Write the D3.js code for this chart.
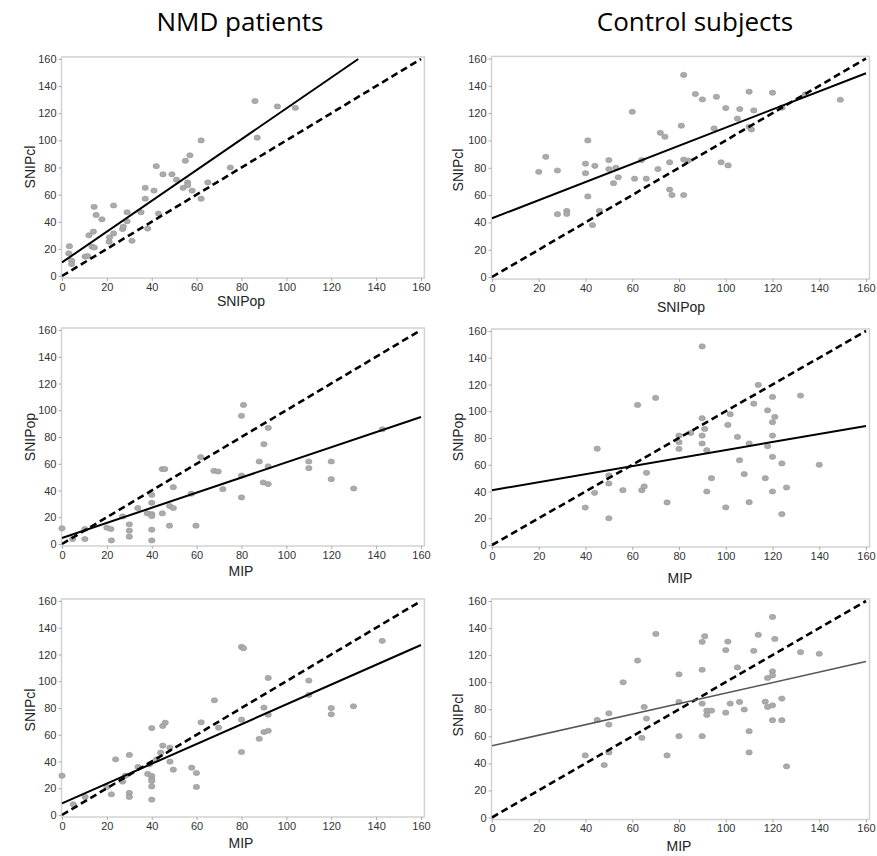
<!DOCTYPE html>
<html><head><meta charset="utf-8">
<script src="https://cdn.jsdelivr.net/npm/d3@7"></script>
<style>
html,body{margin:0;padding:0;background:#fff;}
svg{display:block;}
</style></head>
<body>
<svg id="chart" width="877" height="856"></svg>
<script>
// ---------- DATA ----------
const columnTitles = ["NMD patients", "Control subjects"];
const tickValues = [0, 20, 40, 60, 80, 100, 120, 140, 160];
const xTitles = ["SNIPop", "SNIPop", "MIP", "MIP", "MIP", "MIP"];
const yTitles = ["SNIPcl", "SNIPcl", "SNIPop", "SNIPop", "SNIPcl", "SNIPcl"];

// Row 1: SNIPop (x) vs SNIPcl (y)
const nmdSnipopX = [3.3,3,4.3,4.3,10.3,11.4,12,14.3,15.2,14,13.4,14.4,17.8,21,21.2,23,23,27,27.3,29,29,31.2,35.2,37.1,37.1,38.2,41,42,43,45,49,51,54,55,56,56,57,58,62,62,65,75,86,87,96,104];
const nmdSnipclY  = [22,16.7,11.3,8.8,14.3,14.7,30,51,45,32.7,21.6,21,41.8,25.3,28.5,31.4,52,34.6,36.4,47,40.3,26,47,65,57,35,63,81,46,75,75,71,65,85,69,67,89,63,57,100,69,80,129,102,125,124];
const ctlSnipopX = [20,23,28,28,32,32,40,40,41,41,44,43,46,50,50,52,53,54,60,61,64,66,71,72,74,76,76,77,81,82,82,82,84,87,90,95,96,98,100,101,105,106,110,110,111,112,120,124,134,149];
const ctlSnipclY  = [77,88,78,46,48.4,46.2,83,76,100,59,81.4,38,48.4,85.6,79,68.7,80,73,121,72,85.6,72,79,105.6,102.7,84,64,60,110.8,148,86,60,85.3,134,130,108.8,132,84,123.7,81.7,116,123,135.7,110,108,122,135,124,133.7,129.8];

// Row 2: MIP (x) vs SNIPop (y)
const nmdMipX2 = [0,4.7,10.2,10.2,20,21.8,22,27,30,30,30,33.8,38,40,40,40,40,40,40,44.7,45.8,44.7,48,49.6,49.6,47.9,57.6,59.7,61.8,67.7,69.6,71.7,80,80,80,80.9,87.9,90,89.7,91.9,91.9,91.9,110,110,120,120,130,142.8];
const nmdSnipopY2 = [11.7,3.7,3.7,11.2,12.2,11.2,2.7,20.6,14.7,10,5.5,26.9,22.9,36.8,30.8,22.4,20.9,10.7,2.7,56,56,22.9,28.4,26.9,42.5,13.7,37.6,13.7,65,54.7,54.2,41,51.2,34.8,95.8,104,61.7,74.6,46,44.8,58,86.8,61.7,56.7,61.7,48.5,41.5,85.8];
const ctlMipX2 = [39.9,43.9,45,50,50,50,56,62.3,64.1,65.1,66.1,70,74.9,80,80,80,85,89.9,89.9,91,89.9,89.9,91.9,93.9,91.9,100,100.9,101.9,105,105.9,107.9,110,110,112,113.9,117.9,117.9,116.9,120,120,121,120,120,120,124,124,126,132,140];
const ctlSnipopY2 = [28,39,72,52,46,20,41,104.7,41,43.8,54,110,31.8,81.8,76.9,71.9,83.8,148.5,94.8,86.8,81.8,75.9,70.9,50,40,28.1,89.8,97.8,80.8,63.4,53,75.9,32,105.7,119.7,100.7,73.9,50,110.7,91.8,95.8,81.8,65.9,40,61,23.1,43,111.7,60];

// Row 3: MIP (x) vs SNIPcl (y)
const nmdMipX3 = [0,5,10.3,20,22,23.9,27,28.2,30,30,30,33.9,38.2,39,40,40,40,40,40,40,42.2,44,44.9,44.9,46,48.1,48.1,49.6,57.8,59.9,59.9,62,67.9,69.8,80,80.9,80,80,87.9,90,90,91.9,91.9,91.9,110,110,120,120,129.9,142.7];
const nmdSnipclY3 = [29.4,8,13.5,21,15.5,41.6,25,29.4,44.9,16.5,13.5,36,30.7,37.9,65,29.2,27,25.4,21.4,11.5,41.6,46.6,51.9,66.6,69,39.9,50.4,33.9,35.4,31.4,21,69.3,85.8,65.3,125.7,124.7,71.3,47.1,57,80.3,62,63,75,102.5,100.5,89.8,80,75.3,81.3,130.2];
const ctlMipX3 = [39.9,45,48,50,50,50,56.1,62.3,64.1,65.1,66.1,70.1,74.9,80,80,80,89.9,91,89.9,89.9,89.9,91.9,91.9,93.9,100,100.9,100,101.9,105,105.9,107.9,110,110,112,113.9,116.9,117.9,117.9,120,120,120,120,120,121,124,124,126,132,140];
const ctlSnipclY3 = [45.9,72.1,38.8,77,68.7,48.1,99.9,116,58.9,81.7,73.1,135.7,45.9,105.8,85.4,60.1,129.8,134,109.2,84.2,60.1,79,75.8,79,123.7,130,77.5,84.2,110.9,85.4,79.8,63.8,48.1,123.2,135,85.6,103.1,81.7,148.2,108,105,82.9,71.9,132,87.9,71.9,37.8,122.2,121];

// Regression lines (intercept, slope), panel order: row by row, NMD then Control
const fitIntercepts = [10, 43, 4.5, 41, 8.7, 53];
const fitSlopes     = [1.136, 0.664, 0.565, 0.30, 0.74, 0.389];
// Identity line endpoints
const identityLine = [0, 160];

// ---------- LAYOUT / STYLE ----------
const panelData = [
  [nmdSnipopX, nmdSnipclY], [ctlSnipopX, ctlSnipclY],
  [nmdMipX2, nmdSnipopY2], [ctlMipX2, ctlSnipopY2],
  [nmdMipX3, nmdSnipclY3], [ctlMipX3, ctlSnipclY3]
];
const layout = [
  {x0:62,  x1:421, y0:276,   y1:59,  xt:[241,301], yt:[30,167]},
  {x0:492, x1:866, y0:277,   y1:58.5,xt:[681,307], yt:[458,170]},
  {x0:62,  x1:421, y0:544,   y1:330, xt:[241,571], yt:[30,437]},
  {x0:492, x1:866, y0:545,   y1:331, xt:[680,578], yt:[458,437]},
  {x0:62,  x1:421, y0:815,   y1:601, xt:[241,843], yt:[30,710]},
  {x0:492, x1:866, y0:817.5, y1:601, xt:[679,846], yt:[458,715]}
];
const fitStyle = [
  {c:"#000", w:2}, {c:"#000", w:2}, {c:"#000", w:2},
  {c:"#000", w:2}, {c:"#000", w:2}, {c:"#555", w:1.6}
];

const svg = d3.select("#chart");
svg.append("rect").attr("width",877).attr("height",856).attr("fill","#fff");

// Column titles
const titleX = [240, 695];
columnTitles.forEach((t,i)=>{
  svg.append("text").attr("x", titleX[i]).attr("y", 31)
    .attr("text-anchor","middle")
    .attr("font-family","'Open Sans', 'Liberation Sans', sans-serif")
    .attr("font-size", 26).attr("fill","#000").text(t);
});

layout.forEach((L, i) => {
  const xs = d3.scaleLinear().domain([0,160]).range([L.x0, L.x1]);
  const ys = d3.scaleLinear().domain([0,160]).range([L.y0, L.y1]);
  const g = svg.append("g");
  const left = xs(0) - 0.5, right = xs(161.5), top = ys(161.5), bottom = ys(-1.5);

  const clipId = "clip" + i;
  svg.append("clipPath").attr("id", clipId)
    .append("rect").attr("x", left).attr("y", top - 2)
    .attr("width", right - left + 1).attr("height", bottom - top + 2);

  // frame
  g.append("rect").attr("x", left).attr("y", top)
    .attr("width", right - left).attr("height", bottom - top)
    .attr("fill","none").attr("stroke","#d2d2d2").attr("stroke-width",1.5);

  // axes
  const ax = g.append("g").attr("transform", `translate(0,${bottom})`)
    .call(d3.axisBottom(xs).tickValues(tickValues).tickSize(3).tickPadding(2));
  const ay = g.append("g").attr("transform", `translate(${left},0)`)
    .call(d3.axisLeft(ys).tickValues(tickValues).tickSize(3).tickPadding(2));
  [ax, ay].forEach(a => {
    a.select(".domain").remove();
    a.selectAll(".tick line").attr("stroke","#aaa");
    a.selectAll(".tick text").attr("fill","#333")
      .attr("font-family","'Liberation Sans', Arial, sans-serif").attr("font-size", 11);
  });

  // axis titles
  g.append("text").attr("x", L.xt[0]).attr("y", L.xt[1]).attr("dy","0.35em")
    .attr("text-anchor","middle").attr("font-family","'Liberation Sans', Arial, sans-serif")
    .attr("font-size",14).attr("fill","#222").text(xTitles[i]);
  g.append("text").attr("transform", `translate(${L.yt[0]},${L.yt[1]}) rotate(-90)`)
    .attr("dy","0.35em")
    .attr("text-anchor","middle").attr("font-family","'Liberation Sans', Arial, sans-serif")
    .attr("font-size",14).attr("fill","#222").text(yTitles[i]);

  // points
  const [X, Y] = panelData[i];
  g.append("g").selectAll("ellipse").data(X.map((x,k)=>[x, Y[k]])).join("ellipse")
    .attr("cx", d => xs(d[0])).attr("cy", d => ys(d[1]))
    .attr("rx", 3.2).attr("ry", 2.6)
    .attr("fill","#ababab").attr("stroke","#959595").attr("stroke-width",0.6);

  // identity dashed line
  g.append("line").attr("clip-path", `url(#${clipId})`)
    .attr("x1", xs(identityLine[0])).attr("y1", ys(identityLine[0]))
    .attr("x2", xs(identityLine[1])).attr("y2", ys(identityLine[1]))
    .attr("stroke","#000").attr("stroke-width",2.6).attr("stroke-dasharray","7,4");

  // regression line
  const b = fitIntercepts[i], m = fitSlopes[i];
  const xEnd = Math.min(160, (160 - b) / m);
  g.append("line").attr("clip-path", `url(#${clipId})`)
    .attr("x1", xs(0)).attr("y1", ys(b))
    .attr("x2", xs(xEnd)).attr("y2", ys(b + m * xEnd))
    .attr("stroke", fitStyle[i].c).attr("stroke-width", fitStyle[i].w);
});
</script>
</body></html>
